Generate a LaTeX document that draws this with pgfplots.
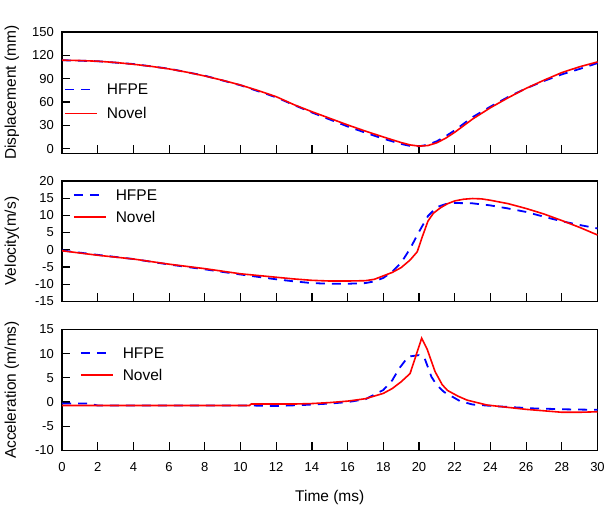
\documentclass[border=0pt]{standalone}
\usepackage{fontspec}
\setmainfont{Liberation Sans}
\usepackage{pgfplots}
\pgfplotsset{compat=1.18}
\definecolor{hfpe}{RGB}{0,0,255}
\definecolor{novel}{RGB}{255,0,0}

% common look of the three panels
\pgfplotsset{
  every axis/.append style={
    scale only axis, width=535.5pt,
    xmin=0, xmax=30, xtick={0,2,...,30},
    axis line style={line width=1.4pt},
    tick align=inside, xtick pos=bottom, ytick pos=left,
    major tick length=8pt, tick style={black, line width=1.2pt},
    /pgf/number format/assume math mode=true,
    ticklabel style={font=\fontsize{13}{15}\selectfont},
    yticklabel style={inner sep=0pt, anchor=east, xshift=-8pt},
    xticklabel style={inner sep=0pt, anchor=north, yshift=-12pt},
    label style={font=\fontsize{15.5}{18}\selectfont},
    ylabel style={at={(axis description cs:-0.0934,0.5)}, anchor=center},
    legend cell align=left,
  },
  every axis legend/.append style={draw=none, fill=none, inner sep=0pt,
    outer sep=0pt, font=\fontsize{15.5}{18}\selectfont, anchor=north west,
    nodes={inner sep=0pt, text height=11pt, text depth=1pt},
    column sep=9pt, row sep=10pt},
  legend image code/.code={\draw[#1] (0pt,0pt) -- (32pt,0pt);},
  hf/.style={hfpe, line width=1.8pt, dash pattern=on 9pt off 7pt},
  nv/.style={novel, line width=1.6pt},
}

\begin{document}
\begin{tikzpicture}
\path (0,0) rectangle (606pt,509pt);

% displacement
\begin{axis}[at={(62pt,355.7pt)}, anchor=south west, height=121.3pt,
  ymin=-6, ymax=150, ytick={0,30,...,150}, xticklabels={},
  ylabel={Displacement (mm)}]
\addplot[hf, forget plot] coordinates {
 (0,113.7) (2,112.4) (4,108.8) (6,102.8) (8,93.8) (10,81.5) (12,66) (13,56)
 (14,46.5) (15,37.5) (16,28.5) (17,20.5) (18,12.8) (19,6.0) (19.5,3.5) (20,3.0)
 (20.5,5.0) (21,9.5) (21.5,16) (22,23.5) (23,40.5) (24,54) (25,66.5) (26,77.5)
 (27,87) (28,95.5) (29,102.5) (30,110)};
\addplot[nv, forget plot] coordinates {
 (0,113.7) (1,113.3) (2,112.4) (3,110.8) (4,108.5) (5,105.8) (6,102.5) (7,98.3)
 (8,93.4) (9,87.9) (10,81.8) (11,74.6) (12,66.8) (13,56.5) (14,47.5) (15,39)
 (16,30.5) (17,22.5) (18,15) (19,7.8) (19.5,4.8) (20,3.2) (20.5,4.0) (21,7.5)
 (21.5,13.5) (22,21) (23,38) (24,52.6) (25,65.5) (26,77.5) (27,88) (28,97.8)
 (29,105.3) (30,111.5)};
\end{axis}

% legend of the displacement panel, on a hidden axis of the same size
\begin{axis}[at={(62pt,355.7pt)}, anchor=south west, height=121.3pt,
  hide axis, ymin=-15, ymax=20,
  legend style={at={(0.004,0.575)}, row sep=12pt}]
\addlegendimage{hf}
\addlegendentry{HFPE}
\addlegendimage{nv}
\addlegendentry{Novel}
\end{axis}

% velocity
\begin{axis}[at={(62pt,207.7pt)}, anchor=south west, height=120.3pt,
  ymin=-15, ymax=20, ytick={-15,-10,...,20}, xticklabels={},
  ylabel={Velocity(m/s)},
  legend style={at={(0.0205,0.932)}}]
\addplot[hf] coordinates {
 (0,-0.2) (2,-1.5) (4,-2.7) (6,-4.3) (8,-5.7) (10,-7.2) (12,-8.6) (13,-9.2)
 (14,-9.7) (15,-9.9) (16,-9.9) (17,-9.7) (17.5,-9.2) (18,-8.2) (18.5,-6.4)
 (19,-3.8) (19.5,0.3) (20,5.2) (20.5,9.8) (21,12.4) (21.5,13.3) (22,13.6)
 (23,13.5) (24,12.9) (25,12.0) (26,11.0) (27,9.6) (28,8.3) (29,7.2) (30,6.2)};
\addlegendentry{HFPE}
\addplot[nv] coordinates {
 (0,-0.3) (2,-1.6) (4,-2.7) (6,-4.2) (8,-5.5) (10,-7.0) (12,-8.0) (13,-8.5)
 (14,-8.9) (15,-9.1) (16,-9.1) (17,-9.0) (17.5,-8.6) (18,-7.6) (18.5,-6.6)
 (19,-5.2) (19.5,-3.0) (19.9,-0.6) (20.2,4.0) (20.5,8.3) (20.8,10.6) (21.2,12.2)
 (21.6,13.4) (22,14.2) (22.5,14.7) (23,14.9) (23.5,14.8) (24,14.4) (25,13.4)
 (26,12.0) (27,10.4) (28,8.5) (29,6.5) (30,4.3)};
\addlegendentry{Novel}
\end{axis}

% acceleration
\begin{axis}[at={(62pt,58.5pt)}, anchor=south west, height=121pt,
  ymin=-10, ymax=15, ytick={-10,-5,...,15},
  ylabel={Acceleration (m/ms)}, xlabel={Time (ms)},
  xlabel style={at={(axis description cs:0.5,0)}, anchor=center, yshift=-46.5pt},
  legend style={at={(0.0336,0.854)}}]
\addplot[hf] coordinates {
 (0,-0.3) (1.5,-0.3) (2,-0.7) (10.5,-0.7) (12,-0.8) (13.5,-0.6) (15,-0.3)
 (16,0) (17,0.6) (18,2.5) (18.5,4.5) (18.9,7.0) (19.4,9.4) (20.0,9.7) (20.3,9.2)
 (20.7,5.2) (21.0,3.5) (21.4,2.1) (22.3,0.2) (23,-0.5) (24.5,-0.9) (26.4,-1.3)
 (28.3,-1.5) (30,-1.6)};
\addlegendentry{HFPE}
\addplot[nv] coordinates {
 (0,-0.7) (10.5,-0.7) (10.6,-0.4) (13,-0.4) (14,-0.3) (15,-0.1) (16,0.2)
 (17,0.7) (18,1.8) (18.5,2.8) (19,4.2) (19.5,5.9) (20.15,13.2) (20.45,11.0)
 (20.9,6.3) (21.3,3.6) (21.6,2.4) (22.2,1.2) (22.7,0.4) (23.8,-0.6) (25,-1.1)
 (26,-1.5) (27,-1.8) (28,-2.1) (29,-2.1) (30,-2.0)};
\addlegendentry{Novel}
\end{axis}
\end{tikzpicture}
\end{document}
